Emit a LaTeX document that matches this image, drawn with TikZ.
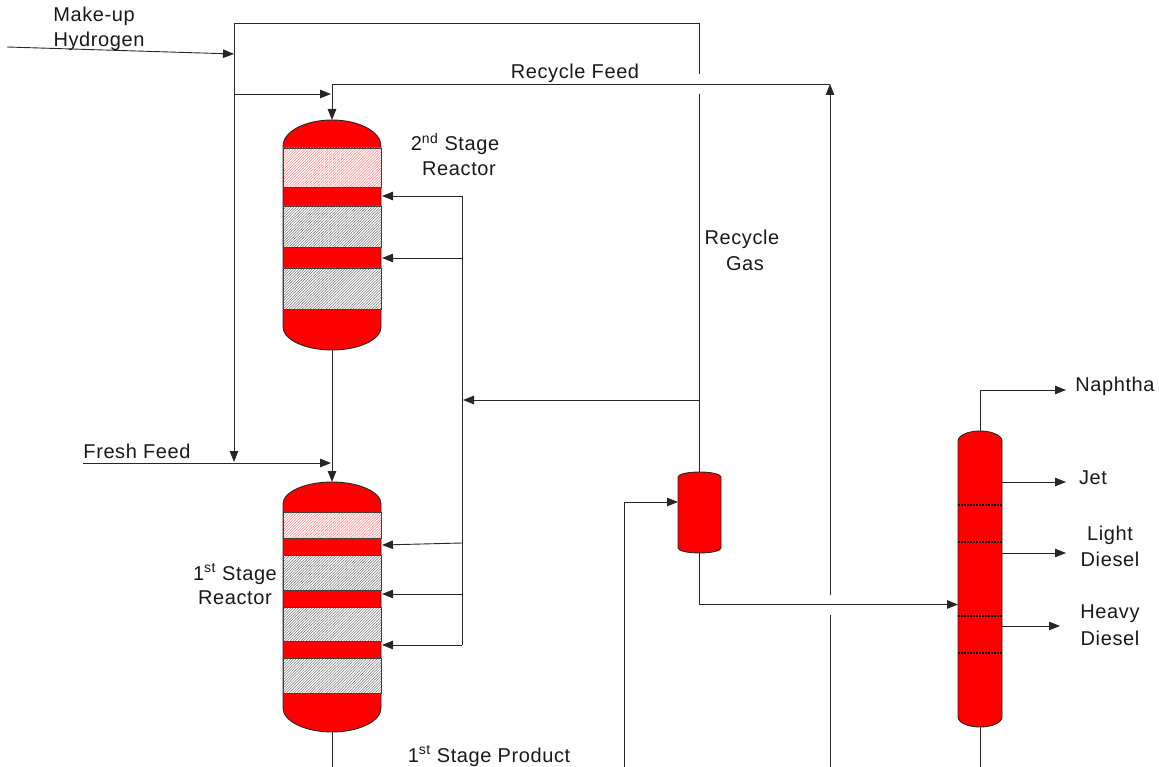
\documentclass[tikz,border=0pt]{standalone}
\usepackage{fontspec}
\setmainfont[LetterSpace=3]{Liberation Sans}
\usetikzlibrary{arrows.meta,patterns.meta}
\tikzset{
  conn/.style={line width=0.9pt,draw=black!85},
  flow/.style={conn,-{Triangle[length=11pt,width=8.5pt]}},
  vessel/.style={draw=black!85,line width=0.9pt,fill=red},
  bedgray/.style={pattern={Lines[angle=45,distance=1.9pt,line width=0.5pt]},pattern color=black!55},
  bedpink/.style={pattern={Lines[angle=45,distance=1.9pt,line width=0.5pt]},pattern color=red!50},
  tray/.style={line width=1.3pt,draw=black,dash pattern=on 2pt off 1pt},
  lbl/.style={font=\fontsize{20}{24}\selectfont,inner sep=0pt,text=black!90},
}
\newcommand{\vesselshape}[6]{% cx, halfwidth, top, side1, side2, bottom
  \path[vessel] ({#1-#2},#4)
    .. controls ({#1-#2},{#4-.55*(#4-#3)}) and ({#1-.55*#2},#3) .. (#1,#3)
    .. controls ({#1+.55*#2},#3) and ({#1+#2},{#4-.55*(#4-#3)}) .. ({#1+#2},#4)
    -- ({#1+#2},#5)
    .. controls ({#1+#2},{#5+.55*(#6-#5)}) and ({#1+.55*#2},#6) .. (#1,#6)
    .. controls ({#1-.55*#2},#6) and ({#1-#2},{#5+.55*(#6-#5)}) .. ({#1-#2},#5)
    -- cycle;}
\newcommand{\bed}[3]{\fill[white] (283,#2) rectangle (381,#3);
  \path[#1] (283,#2) rectangle (381,#3);
  \draw[line width=0.8pt,draw=black!75] (283,#2) rectangle (381,#3);}
\begin{document}
\begin{tikzpicture}[x=1pt,y=-1pt]
\useasboundingbox (0,0) rectangle (1159,767);
% vessels
\vesselshape{332}{49}{120}{146}{327}{350}
\bed{bedpink}{148}{187}
\bed{bedgray}{206}{247}
\bed{bedgray}{268}{309}
\vesselshape{332}{49}{482}{504}{708}{732}
\bed{bedpink}{512}{538}
\bed{bedgray}{555}{590}
\bed{bedgray}{607}{641}
\bed{bedgray}{658}{693}
\vesselshape{699.5}{21.5}{472}{477}{548}{553}
\vesselshape{980}{22}{431}{441}{717}{727}
\foreach \yy in {505,542,616,653} \path[tray] (958,\yy) -- (1002,\yy);
% coordinates
\coordinate (muA) at (7,47);
\coordinate (muB) at (234,54);
\coordinate (hTop) at (234,23);
\coordinate (hDown) at (234,462);
\coordinate (rgTop) at (699,23);
\coordinate (rgGapA) at (699,74);
\coordinate (rgGapB) at (699,94);
\coordinate (drumTop) at (699,472);
\coordinate (rgBranch) at (699,400);
\coordinate (qBranch) at (463,400);
\coordinate (qTop) at (462,196);
\coordinate (qBot) at (462,645);
\coordinate (q1) at (382,196);
\coordinate (q2a) at (462,258);
\coordinate (q2) at (382,258);
\coordinate (q3a) at (462,543);
\coordinate (q3) at (382,545);
\coordinate (q4a) at (462,594);
\coordinate (q4) at (382,594);
\coordinate (q5) at (382,645);
\coordinate (h2a) at (234,94);
\coordinate (h2b) at (331,94);
\coordinate (rfA) at (830,84);
\coordinate (rfB) at (332,84);
\coordinate (r2top) at (332,120);
\coordinate (r2bot) at (332,350);
\coordinate (r1top) at (332,482);
\coordinate (r1bot) at (332,732);
\coordinate (r1out) at (332,767);
\coordinate (ffA) at (83,463);
\coordinate (ffB) at (331,463);
\coordinate (rfBot) at (830,767);
\coordinate (rfGapA) at (830,615);
\coordinate (rfGapB) at (830,595);
\coordinate (fpBot) at (624,767);
\coordinate (fpTurn) at (624,502);
\coordinate (fpEnd) at (678,502);
\coordinate (drumBot) at (699,553);
\coordinate (dpTurn) at (699,604.5);
\coordinate (dpEnd) at (958,604.5);
\coordinate (colTop) at (980,431);
\coordinate (colTurn) at (980,390);
\coordinate (naph) at (1066,390);
\coordinate (jetA) at (1002,482);
\coordinate (jetB) at (1066,482);
\coordinate (ldA) at (1002,553);
\coordinate (ldB) at (1066,553);
\coordinate (hdA) at (1002,626);
\coordinate (hdB) at (1060,626);
\coordinate (colBot) at (980,727);
\coordinate (colOut) at (980,767);
% connectors
\draw[flow] (muA) -- (muB);
\draw[flow] (rgTop) -- (hTop) -- (hDown);
\draw[conn] (rgTop) -- (rgGapA);
\draw[conn] (rgGapB) -- (drumTop);
\draw[flow] (rgBranch) -- (qBranch);
\draw[conn] (qTop) -- (qBot);
\draw[flow] (qTop) -- (q1);
\draw[flow] (q2a) -- (q2);
\draw[flow] (q3a) -- (q3);
\draw[flow] (q4a) -- (q4);
\draw[flow] (qBot) -- (q5);
\draw[flow] (h2a) -- (h2b);
\draw[flow] (rfA) -- (rfB) -- (r2top);
\draw[flow] (r2bot) -- (r1top);
\draw[flow] (ffA) -- (ffB);
\draw[conn] (r1bot) -- (r1out);
\draw[conn] (rfBot) -- (rfGapA);
\draw[flow] (rfGapB) -- (rfA);
\draw[flow] (fpBot) -- (fpTurn) -- (fpEnd);
\draw[flow] (drumBot) -- (dpTurn) -- (dpEnd);
\draw[flow] (colTop) -- (colTurn) -- (naph);
\draw[flow] (jetA) -- (jetB);
\draw[flow] (ldA) -- (ldB);
\draw[flow] (hdA) -- (hdB);
\draw[conn] (colBot) -- (colOut);
% labels
\node[lbl] (makeup) at (94,16) {Make-up};
\node[lbl] (hydrogen) at (99,41) {Hydrogen};
\node[lbl] (recfeed) at (575,73) {Recycle Feed};
\node[lbl] (freshfeed) at (137,451) {Fresh Feed};
\node[lbl] (st2) at (455,144) {2\textsuperscript{nd} Stage};
\node[lbl] (re2) at (459,169) {Reactor};
\node[lbl] (recy) at (742,239) {Recycle};
\node[lbl] (gas) at (745,264) {Gas};
\node[lbl] (naphl) at (1115,386) {Naphtha};
\node[lbl] (jetl) at (1093,478) {Jet};
\node[lbl] (light) at (1110,535) {Light};
\node[lbl] (dsl1) at (1110,559) {Diesel};
\node[lbl] (heavy) at (1110,614) {Heavy};
\node[lbl] (dsl2) at (1110,638) {Diesel};
\node[lbl] (st1) at (235,574) {1\textsuperscript{st} Stage};
\node[lbl] (re1) at (235,598) {Reactor};
\node[lbl] (prod) at (489,756) {1\textsuperscript{st} Stage Product};
\end{tikzpicture}
\end{document}
